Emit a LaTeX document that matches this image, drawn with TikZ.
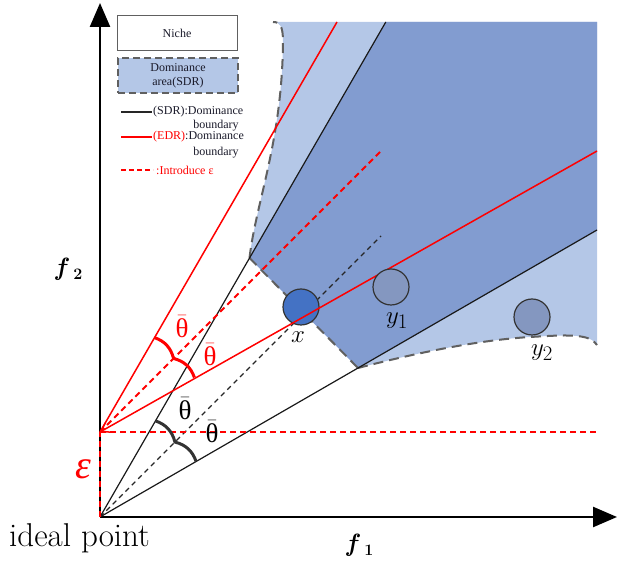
\documentclass[tikz,border=0pt]{standalone}
\usepackage{fontspec}
\newfontfamily\grk{Liberation Serif}
\newfontfamily\legfont{Liberation Serif}
\usetikzlibrary{arrows.meta,calc}
\definecolor{lightsdr}{HTML}{B4C7E7}
\definecolor{darksdr}{HTML}{829CD0}
\definecolor{xblue}{HTML}{4472C4}
\definecolor{ygray}{HTML}{8497C0}
\definecolor{bgray}{HTML}{606060}
\definecolor{legdark}{HTML}{1A1A2A}
\newcommand{\tbar}{$\bar{\hbox{\grk θ}}$}
\begin{document}
\begin{tikzpicture}[x=1pt,y=1pt,
  blackline/.style={line width=1.2pt, black!90},
  redline/.style={line width=1.5pt, red},
  reddash/.style={line width=1.8pt, red, dash pattern=on 6pt off 4pt},
  blackdash/.style={line width=1.1pt, black!85, dash pattern=on 5pt off 4pt},
  bound/.style={line width=2pt, bgray, dash pattern=on 10pt off 6pt},
  axisline/.style={line width=2.5pt, -{Triangle[length=24pt,width=20pt]}},
  ptcircle/.style={circle, draw=black!80, line width=1.2pt, minimum size=36pt, inner sep=0pt},
  legtxt/.style={font=\legfont\fontsize{12}{13}\selectfont, text=legdark, inner sep=0pt},
  anglab/.style={font=\fontsize{27}{29}\selectfont, inner sep=0pt},
  arcblack/.style={line width=3pt, black!80},
  arcred/.style={line width=3pt, red},
  ptlab/.style={font=\fontsize{30}{32}\selectfont, inner sep=0pt}
]
\useasboundingbox (0,0) rectangle (624,562);
% key points
\coordinate (O) at (100,45);
\coordinate (E) at (100,130);
\coordinate (Ytip) at (100,559);
\coordinate (Xtip) at (617,45);
\coordinate (K1) at (249.5,304);
\coordinate (U) at (385.8,540);
\coordinate (TR) at (597,540);
\coordinate (L) at (597,332);
\coordinate (K2) at (358,194);
\coordinate (BD) at (381,326);
\coordinate (RU) at (337,540);
\coordinate (RL) at (597,411);
\coordinate (RD) at (382,412);
\coordinate (RH) at (597,130);
\coordinate (TL) at (273,540);
\coordinate (BR) at (597,217);
% regions
\fill[lightsdr] (TL) -- (TR) -- (BR) .. controls (590,229) and (565,227) .. (530,225)
  .. controls (480,222) and (420,210) .. (K2) -- (K1)
  .. controls (256,360) and (282,420) .. (283,520) .. controls (283,536) and (280,540) .. (TL) -- cycle;
\fill[darksdr] (K1) -- (U) -- (TR) -- (L) -- (K2) -- cycle;
% dashed boundaries
\draw[bound] (K1) .. controls (256,360) and (282,420) .. (283,520) .. controls (283,536) and (280,540) .. (TL);
\draw[bound] (K1) -- (K2);
\draw[bound] (K2) .. controls (420,210) and (480,222) .. (530,225) .. controls (565,227) and (590,229) .. (BR);
% axes
\draw[axisline] (O) -- (Ytip);
\draw[axisline] (O) -- (Xtip);
% black cone
\draw[blackline] (O) -- (U);
\draw[blackline] (O) -- (L);
\draw[blackdash] (O) -- (BD);
% red cone
\draw[reddash] (O) -- (E);
\draw[reddash] (E) -- (RH);
\draw[redline] (E) -- (RU);
\draw[reddash] (E) -- (RD);
% angle marks
\coordinate (bA) at ($(O)+(60:111)$);
\coordinate (bB) at ($(O)+(45:106)$);
\coordinate (bC) at ($(O)+(30:111)$);
\draw[arcblack] (bA) to[bend left=28] (bB) to[bend left=28] (bC);
\coordinate (rA) at ($(E)+(60:109)$);
\coordinate (rB) at ($(E)+(45:104)$);
\coordinate (rC) at ($(E)+(30:109)$);
\draw[arcred] (rA) to[bend left=28] (rB) to[bend left=28] (rC);
\node[anglab, text=red] (tr1) at (182,235) {\tbar};
\node[anglab, text=red] (tr2) at (210,207) {\tbar};
\node[anglab] (tb1) at (185,153) {\tbar};
\node[anglab] (tb2) at (212,130) {\tbar};
% points
\node[ptcircle, fill=xblue] (px) at (301,255) {};
\draw[redline, {Straight Barb[length=8pt,width=11pt]}-] (E) -- (RL);
\node[ptcircle, fill=ygray] (py1) at (391,275) {};
\node[ptcircle, fill=ygray] (py2) at (532,245) {};
\node[ptlab] (lx) at (298,225) {$x$};
\node[ptlab] (ly1) at (397,241) {$y_1$};
\node[ptlab] (ly2) at (542,209) {$y_2$};
% axis labels
\node[inner sep=0pt, font=\fontsize{25}{26}\selectfont] (f2) at (69,293) {\textbf{\textit{f}}\,\raisebox{-4pt}{\fontsize{16}{16}\selectfont\textbf{2}}};
\node[inner sep=0pt, font=\fontsize{25}{26}\selectfont] (f1) at (360,17) {\textbf{\textit{f}}\,\raisebox{-4pt}{\fontsize{16}{16}\selectfont\textbf{1}}};
\node[inner sep=0pt, anchor=base west, font=\fontsize{33}{35}\selectfont] (ideal) at (9,15) {ideal point};
\node[inner sep=0pt, text=red, font=\grk\itshape\fontsize{40}{42}\selectfont] (eps) at (83,93) {ε};
% legend
\node[draw=bgray, line width=1pt, fill=white, minimum width=120pt, minimum height=35pt, inner sep=0pt, legtxt] (niche) at (177,528.5) {Niche};
\node[draw=bgray, line width=2pt, dash pattern=on 7pt off 4pt, fill=lightsdr, minimum width=120pt, minimum height=35pt, inner sep=0pt, legtxt, align=center, font=\legfont\fontsize{12}{14}\selectfont] (sdr) at (178,486.5) {Dominance\\area(SDR)};
\coordinate (lb1) at (121,450); \coordinate (lb2) at (152,450);
\draw[line width=1.3pt, black!85] (lb1) -- (lb2);
\node[legtxt, anchor=west] (sdrt) at (153,450) {(SDR):Dominance};
\node[legtxt] (sdrb) at (216,436) {boundary};
\coordinate (lr1) at (121,425); \coordinate (lr2) at (152,425);
\draw[line width=1.6pt, red] (lr1) -- (lr2);
\node[legtxt, anchor=west] (edrt) at (153,425) {\textcolor{red}{(EDR)}:Dominance};
\node[legtxt] (edrb) at (216,409) {boundary};
\coordinate (ld1) at (121,392); \coordinate (ld2) at (153,392);
\draw[line width=1.6pt, red, dash pattern=on 5pt off 3pt] (ld1) -- (ld2);
\node[legtxt, anchor=west, text=red] (intro) at (156,392) {:Introduce ε};
\end{tikzpicture}
\end{document}
